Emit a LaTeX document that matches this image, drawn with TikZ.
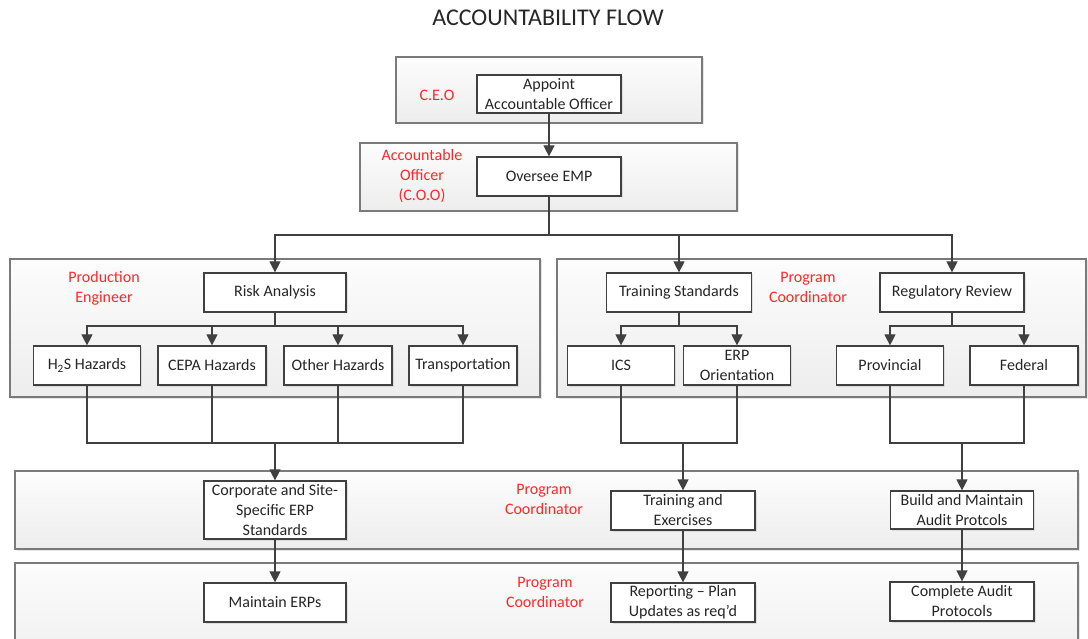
\documentclass[tikz,border=0pt]{standalone}
\usepackage{fontspec}
\setmainfont{Carlito}
\usetikzlibrary{arrows.meta,shadows}
\definecolor{linec}{HTML}{404040}
\definecolor{panelc}{HTML}{7A7A7A}
\definecolor{redc}{HTML}{FF2828}
\definecolor{txtc}{HTML}{262626}
\tikzset{
  panel/.style={draw=panelc, line width=1.4pt, top color=white!99!black, bottom color=white!93!black,
    drop shadow={shadow xshift=1.5pt, shadow yshift=-1.5pt, opacity=.2}, inner sep=0pt},
  stepbox/.style={draw=linec, line width=1.2pt, fill=white, text=txtc, align=center, inner sep=0pt,
    font=\fontsize{16}{20}\selectfont,
    drop shadow={shadow xshift=1.5pt, shadow yshift=-1.5pt, opacity=.2}},
  rolelbl/.style={text=redc, align=center, font=\fontsize{16}{20}\selectfont, inner sep=0pt},
  conn/.style={draw=linec, line width=1.2pt},
  arr/.style={conn, -{Triangle[length=11pt,width=11pt]}},
}
\begin{document}
\begin{tikzpicture}[x=1pt,y=-1pt]
\useasboundingbox (0,0) rectangle (1088,639);
\clip (0,0) rectangle (1088,639);
% title
\node[text=txtc, font=\fontsize{24}{28}\selectfont] (title) at (548,18) {ACCOUNTABILITY FLOW};
% panels
\node[panel, minimum width=306pt, minimum height=66pt] (pceo) at (549,90) {};
\node[panel, minimum width=377pt, minimum height=68pt] (pcoo) at (548.5,177) {};
\node[panel, minimum width=530pt, minimum height=138pt] (ppe) at (275,328) {};
\node[panel, minimum width=529pt, minimum height=138pt] (ppc) at (821.5,328) {};
\node[panel, minimum width=1063pt, minimum height=78pt] (prow4) at (546.5,510) {};
\node[panel, minimum width=1063pt, minimum height=110pt] (prow5) at (546.5,618) {};
% role labels
\node[rolelbl] (lceo) at (437,95) {C.E.O};
\node[rolelbl] (lcoo) at (422,176) {Accountable\\Officer\\(C.O.O)};
\node[rolelbl] (lpe) at (104,288) {Production\\Engineer};
\node[rolelbl] (lpc1) at (808,287) {Program\\Coordinator};
\node[rolelbl] (lpc2) at (544,499) {Program\\Coordinator};
\node[rolelbl] (lpc3) at (545,592) {Program\\Coordinator};
% boxes
\node[stepbox, minimum width=144pt, minimum height=38pt] (appoint) at (549,94) {Appoint\\Accountable Officer};
\node[stepbox, minimum width=144pt, minimum height=39pt] (oversee) at (549,176.5) {Oversee EMP};
\node[stepbox, minimum width=142pt, minimum height=39pt] (risk) at (275,292.5) {Risk Analysis};
\node[stepbox, minimum width=107pt, minimum height=39pt] (h2s) at (87,365.5) {H\textsubscript{2}S Hazards};
\node[stepbox, minimum width=108pt, minimum height=39pt] (cepa) at (212,365.5) {CEPA Hazards};
\node[stepbox, minimum width=108pt, minimum height=39pt] (oth) at (338,365.5) {Other Hazards};
\node[stepbox, minimum width=108pt, minimum height=39pt] (trn) at (463,365.5) {Transportation};
\node[stepbox, minimum width=145pt, minimum height=39pt] (trs) at (679,292.5) {Training Standards};
\node[stepbox, minimum width=144pt, minimum height=39pt] (reg) at (952,292.5) {Regulatory Review};
\node[stepbox, minimum width=107pt, minimum height=39pt] (ics) at (621,365.5) {ICS};
\node[stepbox, minimum width=107pt, minimum height=39pt] (erp) at (737,365.5) {ERP\\Orientation};
\node[stepbox, minimum width=107pt, minimum height=39pt] (prov) at (890,365.5) {Provincial};
\node[stepbox, minimum width=108pt, minimum height=39pt] (fed) at (1024,365.5) {Federal};
\node[stepbox, minimum width=142pt, minimum height=58pt] (corp) at (275,510) {Corporate and Site-\\Specific ERP\\Standards};
\node[stepbox, minimum width=144pt, minimum height=39pt] (tex) at (683,510.5) {Training and\\Exercises};
\node[stepbox, minimum width=143pt, minimum height=38pt] (build) at (962,510) {Build and Maintain\\Audit Protcols};
\node[stepbox, minimum width=142pt, minimum height=39pt] (merp) at (275,602.5) {Maintain ERPs};
\node[stepbox, minimum width=144pt, minimum height=39pt] (rep) at (683,602.5) {Reporting – Plan\\Updates as req’d};
\node[stepbox, minimum width=144pt, minimum height=39pt] (cap) at (962,601.5) {Complete Audit\\Protocols};
% junction coordinates
\coordinate (b1) at (549,235);
\coordinate (b2) at (275,326);
\coordinate (b3) at (679,326);
\coordinate (b4) at (952,326);
\coordinate (j1) at (275,443);
\coordinate (j2) at (683,443);
\coordinate (j3) at (962,443);
% connectors
\draw[arr] (appoint.south) -- (oversee.north);
\draw[conn] (oversee.south) -- (b1);
\draw[arr] (b1) -| (risk.north);
\draw[arr] (b1) -| (trs.north);
\draw[arr] (b1) -| (reg.north);
\draw[conn] (risk.south) -- (b2);
\draw[arr] (b2) -| (h2s.north);
\draw[arr] (b2) -| (cepa.north);
\draw[arr] (b2) -| (oth.north);
\draw[arr] (b2) -| (trn.north);
\draw[conn] (trs.south) -- (b3);
\draw[arr] (b3) -| (ics.north);
\draw[arr] (b3) -| (erp.north);
\draw[conn] (reg.south) -- (b4);
\draw[arr] (b4) -| (prov.north);
\draw[arr] (b4) -| (fed.north);
\draw[conn] (h2s.south) -- (h2s.south |- j1) -- (trn.south |- j1) -- (trn.south);
\draw[conn] (cepa.south) -- (cepa.south |- j1);
\draw[conn] (oth.south) -- (oth.south |- j1);
\draw[arr] (j1) -- (corp.north);
\draw[conn] (ics.south) -- (ics.south |- j2) -- (erp.south |- j2) -- (erp.south);
\draw[arr] (j2) -- (tex.north);
\draw[conn] (prov.south) -- (prov.south |- j3) -- (fed.south |- j3) -- (fed.south);
\draw[arr] (j3) -- (build.north);
\draw[arr] (corp.south) -- (merp.north);
\draw[arr] (tex.south) -- (rep.north);
\draw[arr] (build.south) -- (cap.north);
\end{tikzpicture}
\end{document}
